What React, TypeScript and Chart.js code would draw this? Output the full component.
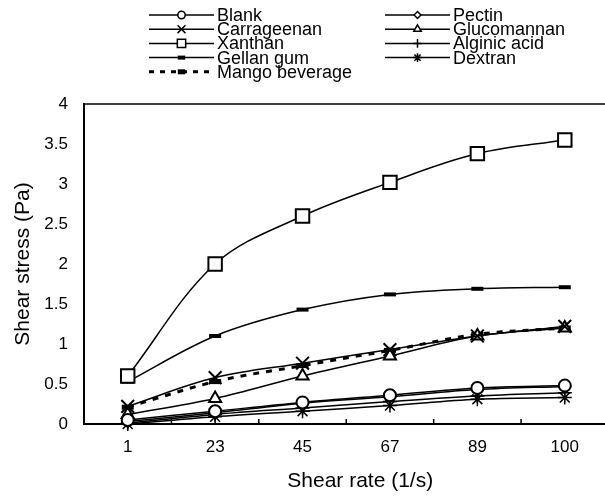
import React, { useEffect, useRef } from "react";
import { Chart, registerables } from "chart.js";
import { drawPoint } from "chart.js/helpers";

Chart.register(...registerables);

const categories = ["1", "23", "45", "67", "89", "100"];
const blank = [0.05, 0.16, 0.27, 0.36, 0.45, 0.48];
const pectin = [0.03, 0.14, 0.26, 0.34, 0.43, 0.47];
const carrageenan = [0.22, 0.58, 0.76, 0.93, 1.1, 1.22];
const glucomannan = [0.12, 0.32, 0.6, 0.85, 1.1, 1.2];
const xanthan = [0.6, 2.0, 2.6, 3.02, 3.38, 3.55];
const alginicAcid = [0.01, 0.12, 0.2, 0.28, 0.35, 0.39];
const gellanGum = [0.53, 1.1, 1.43, 1.62, 1.69, 1.71];
const dextran = [0.0, 0.09, 0.16, 0.23, 0.31, 0.33];
const mangoBeverage = [0.21, 0.53, 0.73, 0.92, 1.12, 1.2];

const yTitle = "Shear stress (Pa)";
const xTitle = "Shear rate (1/s)";
const FONT = "'Liberation Sans', Arial, sans-serif";

type S = {
  label: string;
  data: number[];
  pointStyle: string;
  radius: number;
  pbw: number;
  fill: string;
  dash?: number[];
  lw?: number;
  col: number;
  row: number;
};

const series: S[] = [
  { label: "Blank", data: blank, pointStyle: "circle", radius: 6, pbw: 2, fill: "#fff", col: 0, row: 0 },
  { label: "Pectin", data: pectin, pointStyle: "rectRot", radius: 5.5, pbw: 2, fill: "#fff", col: 1, row: 0 },
  { label: "Carrageenan", data: carrageenan, pointStyle: "crossRot", radius: 9, pbw: 2, fill: "#000", col: 0, row: 1 },
  { label: "Glucomannan", data: glucomannan, pointStyle: "triangle", radius: 7, pbw: 2, fill: "#fff", col: 1, row: 1 },
  { label: "Xanthan", data: xanthan, pointStyle: "rect", radius: 9.5, pbw: 2, fill: "#fff", col: 0, row: 2 },
  { label: "Alginic acid", data: alginicAcid, pointStyle: "cross", radius: 7, pbw: 1.5, fill: "#000", col: 1, row: 2 },
  { label: "Gellan gum", data: gellanGum, pointStyle: "line", radius: 6, pbw: 4, fill: "#000", col: 0, row: 3 },
  { label: "Dextran", data: dextran, pointStyle: "star", radius: 7, pbw: 1.5, fill: "#000", col: 1, row: 3 },
  { label: "Mango beverage", data: mangoBeverage, pointStyle: "line", radius: 6, pbw: 5, fill: "#000", dash: [6, 7], lw: 3, col: 0, row: 4 },
];

const decorPlugin = {
  id: "decor",
  afterDraw(chart: any) {
    const ctx = chart.ctx as CanvasRenderingContext2D;
    const { left, right, top, bottom } = chart.chartArea;
    const xs = chart.scales.x;
    ctx.save();
    // top border
    ctx.strokeStyle = "#000";
    ctx.lineWidth = 1.5;
    ctx.beginPath();
    ctx.moveTo(left, top);
    ctx.lineTo(right, top);
    ctx.stroke();
    // inward tick marks between categories
    ctx.lineWidth = 1.5;
    for (let i = 0; i < categories.length - 1; i++) {
      const mid = (xs.getPixelForValue(i) + xs.getPixelForValue(i + 1)) / 2;
      ctx.beginPath();
      ctx.moveTo(mid, bottom);
      ctx.lineTo(mid, bottom - 5);
      ctx.stroke();
    }
    // x title
    ctx.fillStyle = "#000";
    ctx.font = `21px ${FONT}`;
    ctx.textAlign = "center";
    ctx.textBaseline = "middle";
    ctx.fillText(xTitle, (left + right) / 2 + 14, 481);

    // legend
    const colLineX = [149, 385];
    const lineLen = 65;
    const rowY0 = 15;
    const rowStep = 14.2;
    ctx.font = `18px ${FONT}`;
    ctx.textAlign = "left";
    for (const s of series) {
      const x0 = colLineX[s.col];
      const y = rowY0 + s.row * rowStep;
      ctx.strokeStyle = "#000";
      ctx.lineWidth = s.lw ? s.lw : 1.5;
      ctx.setLineDash(s.dash ? [5, 6] : []);
      ctx.beginPath();
      ctx.moveTo(x0, y);
      ctx.lineTo(x0 + lineLen, y);
      ctx.stroke();
      ctx.setLineDash([]);
      ctx.fillStyle = s.fill;
      ctx.lineWidth = s.pointStyle === "line" ? s.pbw : 1.5;
      drawPoint(ctx, { pointStyle: s.pointStyle as any, rotation: 0, radius: s.radius * 0.62, borderWidth: 1 } as any, x0 + lineLen / 2, y);
      ctx.fillStyle = "#000";
      ctx.fillText(s.label, x0 + lineLen + 3, y + 1);
    }
    ctx.restore();
  },
};

export default function App() {
  const ref = useRef<HTMLCanvasElement | null>(null);
  useEffect(() => {
    if (!ref.current) return;
    const chart = new Chart(ref.current, {
      type: "line",
      data: {
        labels: categories,
        datasets: series.map((s) => ({
          label: s.label,
          data: s.data,
          borderColor: "#000",
          borderWidth: s.lw ? s.lw : 1.5,
          borderDash: s.dash ? s.dash : [],
          backgroundColor: s.fill,
          pointStyle: s.pointStyle as any,
          pointRadius: s.radius,
          pointBorderWidth: s.pbw,
          pointBorderColor: "#000",
          pointBackgroundColor: s.fill,
          tension: 0.35,
          fill: false,
          clip: false as any,
        })),
      },
      options: {
        responsive: false,
        maintainAspectRatio: false,
        animation: false,
        layout: { padding: { top: 104, right: 10, left: 0, bottom: 0 } },
        plugins: {
          legend: { display: false },
          tooltip: { enabled: false },
        },
        scales: {
          x: {
            type: "category",
            offset: true,
            grid: { display: false, drawTicks: false },
            border: { display: true, color: "#000", width: 2 },
            ticks: { color: "#000", font: { family: FONT, size: 17 }, padding: 13, maxRotation: 0 },
            afterFit: (s: any) => {
              s.height = 76;
            },
          },
          y: {
            min: 0,
            max: 4,
            grid: { display: false, drawTicks: false },
            border: { display: true, color: "#000", width: 2 },
            ticks: {
              stepSize: 0.5,
              color: "#000",
              font: { family: FONT, size: 17 },
              padding: 16,
              callback: (v: any) => String(Number(v)),
            },
            title: {
              display: true,
              text: yTitle,
              color: "#000",
              font: { family: FONT, size: 21 },
              padding: { top: 11, bottom: 0 },
            },
            afterFit: (s: any) => {
              s.width = 84;
            },
          },
        },
      },
      plugins: [decorPlugin],
    });
    return () => chart.destroy();
  }, []);
  return (
    <div
      style={{
        position: "absolute",
        left: 0,
        top: 0,
        width: 605,
        height: 500,
        overflow: "hidden",
        background: "#fff",
      }}
    >
      <canvas ref={ref} width={620} height={500} style={{ display: "block" }} />
    </div>
  );
}
